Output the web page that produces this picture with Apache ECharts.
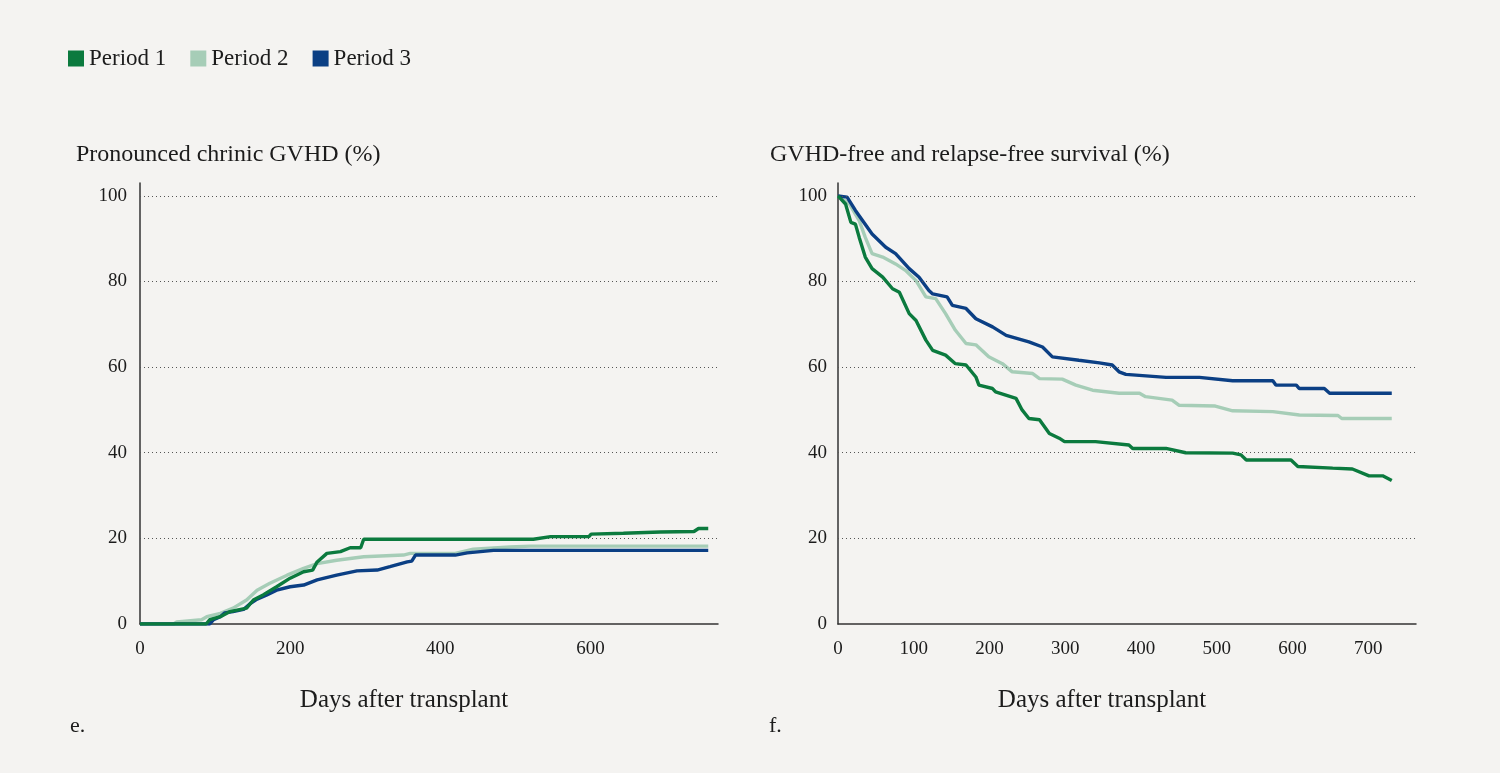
<!DOCTYPE html>
<html>
<head>
<meta charset="utf-8">
<script src="https://cdn.jsdelivr.net/npm/echarts@6/dist/echarts.min.js"></script>
<style>
html,body{margin:0;padding:0;background:#f4f3f1;}
#c{width:1500px;height:773px;}
</style>
</head>
<body>
<div id="c"></div>
<script>
const seriesNames = ['Period 1', 'Period 2', 'Period 3'];
const seriesColors = ['#0b7a3e', '#a6cdb7', '#0b3f84'];
const yTicks = [20, 40, 60, 80, 100];

// Pronounced chronic GVHD (%) : [day, percent]
const gvhdPeriod1 = [[0,0],[88,0],[93,1],[107,1.7],[120,2.9],[142,3.7],[151,5.6],[164,6.8],[182,8.7],[200,10.7],[218,12.2],[230,12.6],[236,14.5],[249,16.5],[267,16.9],[280,17.8],[294,17.8],[298,19.8],[524,19.8],[547,20.4],[598,20.4],[601,21],[644,21.2],[693,21.5],[738,21.6],[744,22.3],[757,22.3]];
const gvhdPeriod2 = [[0,0],[45,0],[49,0.5],[82,1],[89,1.7],[107,2.5],[124,3.7],[142,5.6],[156,7.9],[173,9.5],[196,11.4],[218,13],[236,14.1],[262,14.9],[298,15.7],[351,16.1],[360,16.5],[420,16.5],[444,17.5],[493,18],[520,18.2],[757,18.2]];
const gvhdPeriod3 = [[0,0],[93,0],[98,1],[107,1.7],[113,2.6],[124,2.9],[138,3.4],[147,4.8],[156,5.8],[169,6.8],[182,7.9],[200,8.7],[218,9.1],[236,10.3],[262,11.4],[289,12.4],[316,12.6],[333,13.4],[356,14.5],[362,14.7],[367,16.1],[420,16.1],[436,16.6],[471,17.2],[757,17.2]];

// GVHD-free and relapse-free survival (%) : [day, percent]
const grfsPeriod1 = [[0,100],[10,98.1],[17,93.8],[23,93.4],[28,90.3],[36,85.7],[45,83],[59,81],[72,78.3],[81,77.5],[94,72.5],[103,70.9],[116,66.3],[125,63.9],[142,62.8],[155,60.8],[169,60.5],[182,57.7],[186,55.8],[204,55],[208,54.2],[235,52.7],[243,50],[252,48],[266,47.7],[279,44.5],[292,43.4],[299,42.6],[340,42.6],[384,41.8],[389,41],[433,41],[459,40],[521,39.9],[532,39.5],[539,38.3],[598,38.3],[607,36.8],[653,36.4],[679,36.2],[701,34.6],[719,34.6],[731,33.5]];
const grfsPeriod2 = [[0,100],[15,98.1],[28,94.2],[36,90.3],[45,86.5],[59,85.7],[76,84.1],[89,82.6],[103,80.2],[116,76.4],[129,76],[142,72.5],[155,68.6],[169,65.5],[182,65.2],[199,62.4],[217,60.8],[230,58.9],[257,58.5],[266,57.3],[296,57.2],[314,55.8],[336,54.6],[371,53.9],[398,53.9],[406,53.1],[441,52.3],[450,51.1],[498,50.9],[521,49.8],[574,49.6],[609,48.8],[660,48.7],[665,48],[731,48]];
const grfsPeriod3 = [[0,100],[12,99.7],[23,96.6],[45,91.1],[63,88],[76,86.5],[94,83],[107,81],[120,77.9],[125,77.1],[144,76.4],[151,74.4],[169,73.7],[182,71.3],[204,69.4],[222,67.4],[252,65.9],[270,64.7],[283,62.4],[318,61.6],[345,61],[362,60.5],[371,58.9],[380,58.3],[433,57.6],[477,57.6],[521,56.8],[574,56.8],[578,55.8],[605,55.8],[609,55],[642,55],[649,53.9],[731,53.9]];

const FONT = 'Liberation Serif';
const TXT = '#1c1c1c';

const chart = echarts.init(document.getElementById('c'), null, {renderer: 'canvas'});

function gridLinesMark() {
  return {
    silent: true,
    symbol: ['none', 'none'],
    label: {show: false},
    lineStyle: {color: '#555', width: 1, type: [1, 3]},
    emphasis: {disabled: true},
    data: yTicks.map(v => ({yAxis: v}))
  };
}

function mkSeries(name, data, idx, axisIdx, withGrid) {
  const s = {
    name: name,
    type: 'line',
    xAxisIndex: axisIdx,
    yAxisIndex: axisIdx,
    data: data,
    showSymbol: false,
    symbol: 'none',
    lineStyle: {width: 3.4, color: seriesColors[idx]},
    itemStyle: {color: seriesColors[idx]},
    z: 3 + (idx === 0 ? 2 : idx === 2 ? 1 : 0),
    animation: false
  };
  if (withGrid) s.markLine = gridLinesMark();
  return s;
}

const axisLineStyle = {show: true, lineStyle: {color: '#333', width: 1.5}};

function yAxisCfg(gridIndex, margin) {
  return {
    type: 'value', gridIndex: gridIndex, min: 0, max: 103, interval: 20,
    axisLine: axisLineStyle, axisTick: {show: false}, splitLine: {show: false},
    axisLabel: {
      color: TXT, fontFamily: FONT, fontSize: 19, margin: margin,
      formatter: v => (v % 20 === 0 ? String(v) : '')
    }
  };
}

function xAxisCfg(gridIndex, max, interval) {
  return {
    type: 'value', gridIndex: gridIndex, min: 0, max: max, interval: interval,
    axisLine: axisLineStyle, axisTick: {show: false}, splitLine: {show: false},
    name: 'Days after transplant', nameLocation: 'middle', nameGap: 64,
    nameTextStyle: {color: TXT, fontFamily: FONT, fontSize: 25, padding: [0, 50, 0, 0]},
    axisLabel: {
      color: TXT, fontFamily: FONT, fontSize: 19, margin: 16,
      formatter: v => (v % interval === 0 ? String(v) : '')
    }
  };
}

chart.setOption({
  backgroundColor: '#f4f3f1',
  textStyle: {fontFamily: FONT},
  title: [
    {text: 'Pronounced chrinic GVHD (%)', left: 71, top: 138, textStyle: {color: TXT, fontFamily: FONT, fontSize: 24, fontWeight: 'normal'}},
    {text: 'GVHD-free and relapse-free survival (%)', left: 765, top: 138, textStyle: {color: TXT, fontFamily: FONT, fontSize: 24, fontWeight: 'normal'}},
    {text: 'e.', left: 65, top: 710, textStyle: {color: TXT, fontFamily: FONT, fontSize: 22, fontWeight: 'normal'}},
    {text: 'f.', left: 764, top: 710, textStyle: {color: TXT, fontFamily: FONT, fontSize: 22, fontWeight: 'normal'}}
  ],
  legend: {
    left: 63, top: 42, itemWidth: 16, itemHeight: 16, itemGap: 24, icon: 'rect',
    data: seriesNames,
    textStyle: {color: TXT, fontFamily: FONT, fontSize: 23, padding: [0, 0, 0, 0]},
    selectedMode: false
  },
  grid: [
    {left: 140, right: 782, top: 183, bottom: 149},
    {left: 838, right: 84, top: 183, bottom: 149}
  ],
  xAxis: [xAxisCfg(0, 770, 200), xAxisCfg(1, 763, 100)],
  yAxis: [yAxisCfg(0, 13), yAxisCfg(1, 11)],
  series: [
    mkSeries(seriesNames[1], gvhdPeriod2, 1, 0, true),
    mkSeries(seriesNames[2], gvhdPeriod3, 2, 0, false),
    mkSeries(seriesNames[0], gvhdPeriod1, 0, 0, false),
    mkSeries(seriesNames[1], grfsPeriod2, 1, 1, true),
    mkSeries(seriesNames[2], grfsPeriod3, 2, 1, false),
    mkSeries(seriesNames[0], grfsPeriod1, 0, 1, false)
  ]
});
</script>
</body>
</html>
